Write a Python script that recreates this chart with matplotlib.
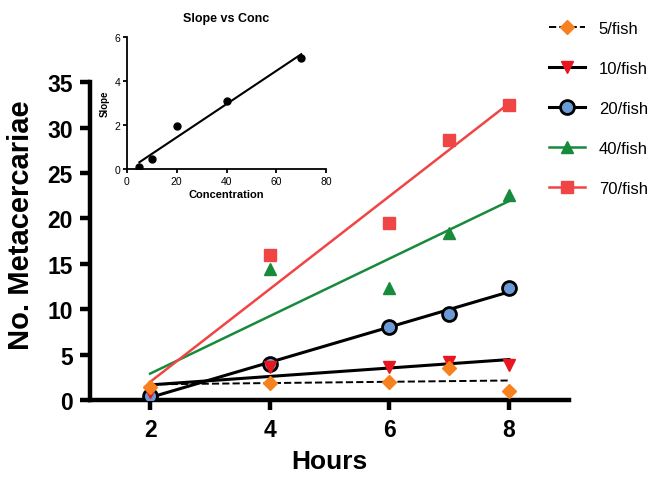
import matplotlib.pyplot as plt
import numpy as np

plt.rcParams["font.family"] = ["Liberation Sans", "DejaVu Sans"]

hours = [2, 4, 6, 7, 8]
conc = [5, 10, 20, 40, 70]
labels = ["5/fish", "10/fish", "20/fish", "40/fish", "70/fish"]

fish5 = [1.5, 1.9, 2.0, 3.5, 1.0]
fish10 = [0.9, 3.7, 3.6, 4.2, 3.9]
fish20 = [0.5, 4.0, 8.0, 9.5, 12.4]
fish40 = [0.6, 14.4, 12.4, 18.4, 22.6]
fish70 = [0.3, 16.0, 19.5, 28.6, 32.5]

# slope of each fitted line, shown in the inset
slopes = [0.07, 0.45, 1.95, 3.1, 5.05]

series = [fish5, fish10, fish20, fish40, fish70]
styles = [
    dict(lc="black", ls="--", lw=1.4, m="D", mfc="#f5821f", mec="#f5821f", ms=7, z=8),
    dict(lc="black", ls="-", lw=2.2, m="v", mfc="#e8161f", mec="#e8161f", ms=9, z=7),
    dict(lc="black", ls="-", lw=2.2, m="o", mfc="#6b9bd6", mec="black", ms=10, z=6),
    dict(lc="#178a3c", ls="-", lw=1.8, m="^", mfc="#178a3c", mec="#178a3c", ms=9, z=5),
    dict(lc="#ef4545", ls="-", lw=1.8, m="s", mfc="#ef4545", mec="#ef4545", ms=9, z=4),
]

fig = plt.figure(figsize=(6.51, 4.81), dpi=100)
ax = fig.add_axes([0.1387, 0.166, 0.735, 0.661])

x = np.array(hours)
handles = []
for vals, st, lab in zip(series, styles, labels):
    k, b = np.polyfit(x, vals, 1)
    xs = np.array([x.min(), x.max()])
    ax.plot(xs, k * xs + b, color=st["lc"], ls=st["ls"], lw=st["lw"], zorder=2)
    mew = 2 if st["m"] == "o" else 1
    ax.plot(x, vals, ls="none", marker=st["m"], ms=st["ms"],
            mfc=st["mfc"], mec=st["mec"], mew=mew, zorder=st["z"])
    h, = ax.plot([], [], color=st["lc"], ls=st["ls"], lw=st["lw"],
                 marker=st["m"], ms=st["ms"], mfc=st["mfc"], mec=st["mec"], mew=mew)
    handles.append(h)

ax.set_xlim(1, 9)
ax.set_ylim(0, 35)
ax.set_xticks([2, 4, 6, 8])
ax.set_yticks(range(0, 36, 5))
for s in ["top", "right"]:
    ax.spines[s].set_visible(False)
for s in ["left", "bottom"]:
    ax.spines[s].set_linewidth(3.2)
ax.tick_params(width=3.2, length=7.5, labelsize=16.5, pad=5)
for t in ax.get_xticklabels() + ax.get_yticklabels():
    t.set_fontweight("bold")
ax.set_xlabel("Hours", fontsize=19, fontweight="bold", labelpad=6)
ax.set_ylabel("No. Metacercariae", fontsize=21, fontweight="bold")
ax.yaxis.set_label_coords(-0.115, 0.555)

fig.legend(handles, labels, loc="upper left", bbox_to_anchor=(0.82, 0.985),
           frameon=False, fontsize=12, labelspacing=1.5, handlelength=2.2,
           handletextpad=0.8)

# inset: slope vs concentration
ins = fig.add_axes([0.195, 0.6466, 0.306, 0.274])
c = np.array(conc)
ins.plot(c, slopes, "o", color="black", ms=5)
k, b = np.polyfit(c, slopes, 1)
cs = np.array([c.min(), c.max()])
ins.plot(cs, k * cs + b, color="black", lw=1.5)
ins.set_xlim(0, 80)
ins.set_ylim(0, 6)
ins.set_xticks([0, 20, 40, 60, 80])
ins.set_yticks([0, 2, 4, 6])
for s in ["top", "right"]:
    ins.spines[s].set_visible(False)
for s in ["left", "bottom"]:
    ins.spines[s].set_linewidth(1.3)
ins.tick_params(width=1.3, length=3, labelsize=7.5, pad=2)
ins.set_title("Slope vs Conc", fontsize=9, fontweight="bold", pad=12)
ins.set_xlabel("Concentration", fontsize=8, fontweight="bold", labelpad=2)
ins.set_ylabel("Slope", fontsize=7, fontweight="bold", labelpad=3)

fig.savefig("out.png", dpi=100)
